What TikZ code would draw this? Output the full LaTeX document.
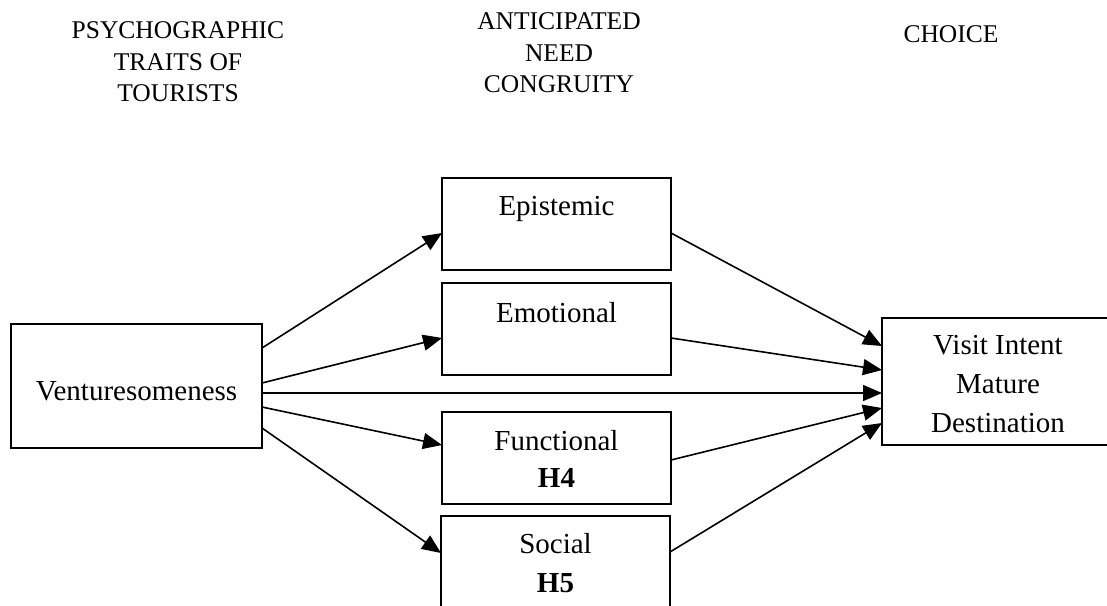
\documentclass[tikz,border=0pt]{standalone}
\usepackage{fontspec}
\setmainfont{Liberation Serif}
\usetikzlibrary{arrows.meta}
\tikzset{
  box/.style={draw=black, line width=2pt, fill=none, inner sep=0pt, outer sep=0pt},
  lbl/.style={inner sep=0pt, outer sep=0pt, anchor=base, font=\fontsize{29}{37}\selectfont},
  hdr/.style={inner sep=0pt, outer sep=0pt, anchor=north, align=center, font=\fontsize{25.5}{31.5}\selectfont},
  arr/.style={line width=1.6pt, -{Triangle[length=19pt,width=16pt]}},
}
\begin{document}
\begin{tikzpicture}[x=1pt, y=-1pt]
\useasboundingbox (0,0) rectangle (1107,605);
\clip (0,0) rectangle (1107,605);
% headers
\node[hdr] (h1) at (178,22) {PSYCHOGRAPHIC\\TRAITS OF\\TOURISTS};
\node[hdr] (h2) at (559,13) {ANTICIPATED\\NEED\\CONGRUITY};
\node[hdr] (h3) at (951,26) {CHOICE};
% boxes
\node[box, minimum width=251pt, minimum height=124pt] (vent) at (136.5,386) {};
\node[box, minimum width=229pt, minimum height=92pt] (epi) at (556.5,224) {};
\node[box, minimum width=229pt, minimum height=92pt] (emo) at (556.5,329) {};
\node[box, minimum width=229pt, minimum height=92pt] (fun) at (556.5,458) {};
\node[box, minimum width=229pt, minimum height=100pt] (soc) at (555.5,566) {};
\node[box, minimum width=232pt, minimum height=127pt] (visit) at (998,381.5) {};
% labels
\node[lbl] (tvent) at (136.5,400) {Venturesomeness};
\node[lbl] (tepi) at (556.5,215) {Epistemic};
\node[lbl] (temo) at (556.5,322) {Emotional};
\node[lbl] (tfun) at (556.5,450) {Functional};
\node[lbl] (th4) at (556.5,487) {\bfseries H4};
\node[lbl] (tsoc) at (555.5,553) {Social};
\node[lbl] (th5) at (555.5,592) {\bfseries H5};
\node[lbl] (tv1) at (998,354) {Visit Intent};
\node[lbl] (tv2) at (998,393) {Mature};
\node[lbl] (tv3) at (998,432) {Destination};
% connectors
\draw[arr] (vent.east |- 0,348) -- (epi.west |- 0,233);
\draw[arr] (vent.east |- 0,383) -- (emo.west |- 0,338);
\draw[arr] (vent.east |- 0,393) -- (visit.west |- 0,393);
\draw[arr] (vent.east |- 0,407) -- (fun.west |- 0,445);
\draw[arr] (vent.east |- 0,428) -- (soc.west |- 0,553);
\draw[arr] (epi.east |- 0,233) -- (visit.west |- 0,346);
\draw[arr] (emo.east |- 0,338) -- (visit.west |- 0,370);
\draw[arr] (fun.east |- 0,460) -- (visit.west |- 0,408);
\draw[arr] (soc.east |- 0,552) -- (visit.west |- 0,423);
\end{tikzpicture}
\end{document}
